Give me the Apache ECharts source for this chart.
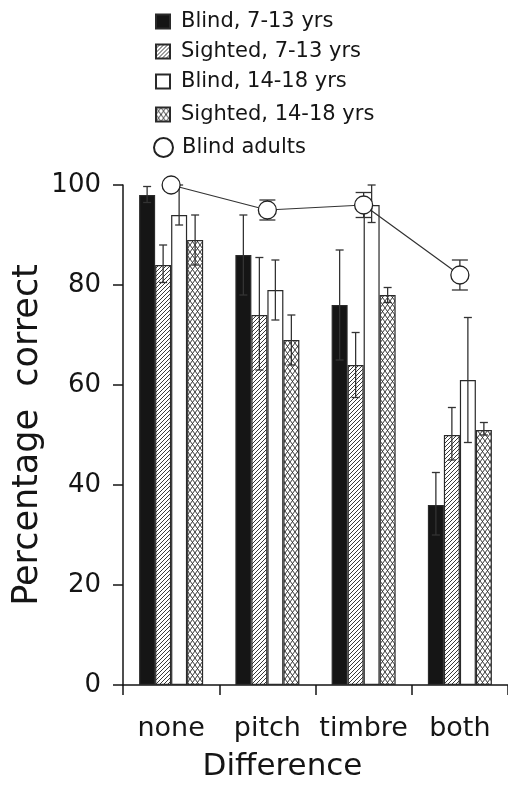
<!DOCTYPE html>
<html>
<head>
<meta charset="utf-8">
<script src="https://cdn.jsdelivr.net/npm/echarts@6/dist/echarts.min.js"></script>
<style>
html,body{margin:0;padding:0;background:#fff;}
#chart{width:508px;height:786px;}
</style>
</head>
<body>
<div id="chart"></div>
<script>
// ---- data ----
const categories = ['none', 'pitch', 'timbre', 'both'];
const seriesNames = ['Blind, 7-13 yrs', 'Sighted, 7-13 yrs', 'Blind, 14-18 yrs', 'Sighted, 14-18 yrs', 'Blind adults'];
const blind713 = [98, 86, 76, 36];
const blind713Low = [96.5, 78, 65, 30];
const blind713High = [99.7, 94, 87, 42.5];
const sighted713 = [84, 74, 64, 50];
const sighted713Low = [80.5, 63, 57.5, 45];
const sighted713High = [88, 85.5, 70.5, 55.5];
const blind1418 = [94, 79, 96, 61];
const blind1418Low = [92, 73, 92.5, 48.5];
const blind1418High = [100, 85, 100, 73.5];
const sighted1418 = [89, 69, 78, 51];
const sighted1418Low = [84, 64, 76.5, 50];
const sighted1418High = [94, 74, 79.5, 52.5];
const blindAdults = [100, 95, 96, 82];
const blindAdultsLow = [100, 93, 93.5, 79];
const blindAdultsHigh = [100, 97, 98.5, 85];
const yTicks = [0, 20, 40, 60, 80, 100];

// ---- styling ----
const FONT = 'DejaVu Sans';
const INK = '#151515';
const BAR_W = 16;

function hatchPattern() {
  const c = document.createElement('canvas');
  c.width = 4; c.height = 4;
  const g = c.getContext('2d');
  g.fillStyle = '#fff'; g.fillRect(0, 0, 4, 4);
  g.strokeStyle = '#222'; g.lineWidth = 0.9;
  g.beginPath();
  g.moveTo(-1, 5); g.lineTo(5, -1);
  g.moveTo(-1, 1); g.lineTo(1, -1);
  g.moveTo(3, 5); g.lineTo(5, 3);
  g.stroke();
  return c;
}
function crossPattern() {
  const c = document.createElement('canvas');
  c.width = 5; c.height = 7;
  const g = c.getContext('2d');
  g.fillStyle = '#fff'; g.fillRect(0, 0, 5, 7);
  g.strokeStyle = '#222'; g.lineWidth = 0.9;
  g.beginPath();
  g.moveTo(0, 0); g.lineTo(5, 7);
  g.moveTo(5, 0); g.lineTo(0, 7);
  g.stroke();
  return c;
}

const barFills = [
  INK,
  { image: hatchPattern(), repeat: 'repeat' },
  '#ffffff',
  { image: crossPattern(), repeat: 'repeat' }
];
const barValues = [blind713, sighted713, blind1418, sighted1418];
const barLows = [blind713Low, sighted713Low, blind1418Low, sighted1418Low];
const barHighs = [blind713High, sighted713High, blind1418High, sighted1418High];

const series = [];
barValues.forEach((vals, k) => {
  series.push({
    name: seriesNames[k],
    type: 'bar',
    data: vals,
    barWidth: BAR_W,
    barGap: '0%',
    z: 2,
    itemStyle: { color: barFills[k], borderColor: '#2a2a2a', borderWidth: 1.2 },
    emphasis: { disabled: true },
    animation: false
  });
});

function errRender(offsetIdx, capHalf) {
  return function (params, api) {
    const ci = api.value(0);
    const c = api.coord([ci, 0]);
    const x = c[0] + (offsetIdx === null ? 0 : (offsetIdx - 1.5) * BAR_W);
    const yl = api.coord([ci, api.value(1)])[1];
    const yh = api.coord([ci, api.value(2)])[1];
    const st = { stroke: '#333', lineWidth: 1.3 };
    return {
      type: 'group',
      children: [
        { type: 'line', shape: { x1: x, y1: yl, x2: x, y2: yh }, style: st },
        { type: 'line', shape: { x1: x - capHalf, y1: yh, x2: x + capHalf, y2: yh }, style: st },
        { type: 'line', shape: { x1: x - capHalf, y1: yl, x2: x + capHalf, y2: yl }, style: st }
      ]
    };
  };
}

barValues.forEach((vals, k) => {
  series.push({
    type: 'custom',
    name: 'err' + k,
    renderItem: errRender(k, 4),
    data: categories.map((_, i) => [i, barLows[k][i], barHighs[k][i]]),
    z: 3,
    silent: true,
    animation: false
  });
});

series.push({
  type: 'custom',
  name: 'errAdults',
  renderItem: errRender(null, 8),
  data: categories.map((_, i) => [i, blindAdultsLow[i], blindAdultsHigh[i]]),
  z: 4,
  silent: true,
  animation: false
});

series.push({
  name: seriesNames[4],
  type: 'line',
  data: blindAdults,
  symbol: 'circle',
  symbolSize: 18,
  z: 5,
  lineStyle: { color: '#333', width: 1.2 },
  itemStyle: { color: '#ffffff', borderColor: '#222', borderWidth: 1.3 },
  emphasis: { disabled: true },
  animation: false
});

const legendTops = [11, 41, 71, 104, 137];
const legends = seriesNames.map((n, k) => ({
  data: [{ name: n, icon: k === 4 ? 'circle' : 'rect' }],
  left: k === 4 ? 153 : 155,
  top: legendTops[k],
  padding: 0,
  itemWidth: k === 4 ? 19 : 14,
  itemHeight: k === 4 ? 19 : 14,
  itemGap: 0,
  selectedMode: false,
  textStyle: { fontFamily: FONT, fontSize: 21, color: INK, padding: [0, 0, 0, k === 4 ? 4 : 6] }
}));

const chart = echarts.init(document.getElementById('chart'), null, { renderer: 'canvas' });
chart.setOption({
  backgroundColor: '#ffffff',
  animation: false,
  legend: legends,
  grid: { left: 123, right: 0, top: 185, bottom: 101, containLabel: false, outerBoundsMode: 'none' },
  xAxis: {
    type: 'category',
    data: categories,
    name: 'Difference',
    nameLocation: 'middle',
    nameGap: 66,
    nameMoveOverlap: false,
    nameTextStyle: { fontFamily: FONT, fontSize: 31, color: INK, padding: [0, 66, 0, 0] },
    axisLine: { lineStyle: { color: INK, width: 1.5 } },
    axisTick: { show: true, inside: false, interval: 0, length: 10, lineStyle: { color: INK, width: 1.5 } },
    axisLabel: { fontFamily: FONT, fontSize: 27, color: INK, margin: 30, interval: 0, hideOverlap: false }
  },
  yAxis: {
    type: 'value',
    min: 0, max: 100, interval: 20,
    name: 'Percentage  correct',
    nameLocation: 'middle',
    nameGap: 78,
    nameMoveOverlap: false,
    nameTextStyle: { fontFamily: FONT, fontSize: 35, color: INK },
    splitLine: { show: false },
    axisLine: { show: true, lineStyle: { color: INK, width: 1.5 } },
    axisTick: { show: true, inside: false, length: 10, lineStyle: { color: INK, width: 1.5 } },
    axisLabel: { fontFamily: FONT, fontSize: 26, color: INK, margin: 22,
      formatter: v => yTicks.includes(v) ? String(v) : '' }
  },
  series: series
});
</script>
</body>
</html>
